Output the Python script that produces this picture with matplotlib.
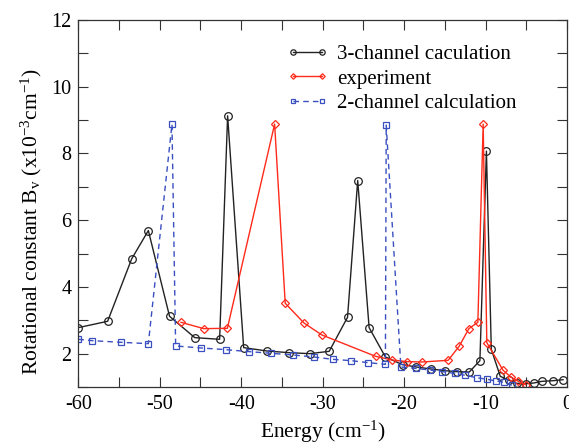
import matplotlib
matplotlib.use("Agg")
import matplotlib.pyplot as plt
from matplotlib.ticker import MultipleLocator

plt.rcParams['font.family'] = ['Liberation Serif', 'DejaVu Serif']
plt.rcParams['mathtext.fontset'] = 'custom'
plt.rcParams['mathtext.rm'] = 'Liberation Serif'
plt.rcParams['mathtext.it'] = 'Liberation Serif'
plt.rcParams['axes.unicode_minus'] = False

# 3-channel calculation
x3 = [-60.0, -56.4, -53.45, -51.4, -48.8, -45.7, -42.65, -41.67, -39.7, -36.85, -34.15,
      -31.6, -29.2, -26.95, -25.7, -24.3, -22.3, -20.2, -18.5, -16.7, -15.0, -13.5,
      -12.0, -10.7, -9.9, -9.3, -8.2, -7.1, -6.2, -5.1, -4.1, -3.1, -1.7, -0.5]
y3 = [2.78, 2.97, 4.84, 5.69, 3.12, 2.48, 2.43, 9.13, 2.18, 2.08, 2.03,
      2.0, 2.07, 3.09, 7.19, 2.78, 1.9, 1.67, 1.6, 1.54, 1.49, 1.46,
      1.45, 1.79, 8.07, 2.13, 1.32, 1.2, 1.11, 1.1, 1.12, 1.17, 1.19, 1.22]

# experiment
xe = [-47.4, -44.6, -41.7, -35.9, -34.6, -32.3, -30.1, -23.5, -21.5, -19.6, -17.8,
      -14.6, -13.25, -12.05, -10.95, -10.3, -9.85, -7.85, -6.9, -6.0, -5.1]
ye = [2.94, 2.75, 2.76, 8.88, 3.51, 2.92, 2.56, 1.92, 1.81, 1.76, 1.75,
      1.8, 2.22, 2.75, 2.94, 8.88, 2.33, 1.5, 1.3, 1.17, 1.07]

# 2-channel calculation
x2 = [-60.0, -58.3, -54.8, -51.4, -48.5, -48.05, -44.9, -41.9, -39.0, -36.3, -33.65,
      -31.1, -28.75, -26.5, -24.4, -22.3, -22.2, -20.4, -18.6, -16.85, -15.3, -13.8,
      -12.5, -11.1, -9.8, -8.7, -7.7, -6.8]
y2 = [2.43, 2.39, 2.34, 2.30, 8.88, 2.23, 2.17, 2.12, 2.06, 2.01, 1.96,
      1.9, 1.83, 1.79, 1.73, 1.68, 8.85, 1.6, 1.56, 1.51, 1.46, 1.41,
      1.35, 1.28, 1.23, 1.18, 1.14, 1.05]

fig = plt.figure(figsize=(5.69, 4.45), dpi=100)
ax = fig.add_axes([0.1376, 0.1303, 0.859, 0.8247])

ax.plot(x3, y3, '-', color='#222222', lw=1.0, marker='o', ms=5.5, mfc='none',
        mec='#222222', mew=0.9, label='3-channel caculation')
ax.plot(xe, ye, '-', color='#ff2a1a', lw=1.0, marker='D', ms=4, mfc='none',
        mec='#ff2a1a', mew=0.9, label='experiment')
ax.plot(x2, y2, '--', color='#3a4fc0', lw=1.0, marker='s', ms=4.5, mfc='none',
        mec='#3a4fc0', mew=0.9, label='2-channel calculation', dashes=(4, 3))

ax.set_xlim(-60, 0)
ax.set_ylim(1, 12)
ax.xaxis.set_major_locator(MultipleLocator(10))
ax.xaxis.set_minor_locator(MultipleLocator(5))
ax.yaxis.set_major_locator(MultipleLocator(2))
ax.yaxis.set_minor_locator(MultipleLocator(1))
ax.tick_params(which='both', direction='in', top=True, right=True, labelsize=14.5,
               color='#333333')
ax.tick_params(which='major', length=7, width=0.8)
ax.tick_params(which='minor', length=7, width=0.8)
ax.tick_params(axis='x', pad=6)
ax.tick_params(axis='y', pad=5)
ax.set_yticks([2, 4, 6, 8, 10, 12])
for s in ax.spines.values():
    s.set_color('#333333')
    s.set_linewidth(0.9)

ax.set_xlabel('Energy (cm$^{-1}$)', fontsize=15.5, labelpad=3)
ax.set_ylabel('Rotational constant B$_\\mathrm{v}$ (x10$^{-3}$cm$^{-1}$)', fontsize=15.5,
              labelpad=4)
ax.yaxis.set_label_coords(-0.07, 0.45)

leg = ax.legend(loc='upper left', bbox_to_anchor=(0.388, 0.985), frameon=False,
                fontsize=15, numpoints=2, handlelength=2.0, handletextpad=0.4,
                labelspacing=0.25, markerscale=0.7)

fig.savefig('out.png', dpi=100)
